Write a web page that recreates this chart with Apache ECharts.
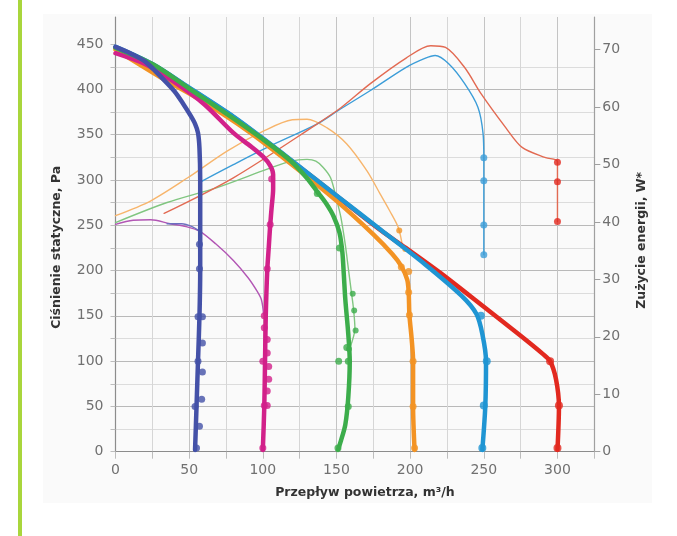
<!DOCTYPE html>
<html>
<head>
<meta charset="utf-8">
<script src="https://cdn.jsdelivr.net/npm/echarts@6/dist/echarts.min.js"></script>
<style>
  html, body { margin: 0; padding: 0; background: #ffffff; }
  #chart { width: 677px; height: 536px; }
</style>
</head>
<body>
<div id="chart"></div>
<script>
// Axis ranges and tick labels
const flowTicks = [0, 50, 100, 150, 200, 250, 300];
const pressureTicks = [0, 50, 100, 150, 200, 250, 300, 350, 400, 450];
const powerTicks = [0, 10, 20, 30, 40, 50, 60, 70];

// Static pressure curves [flow m³/h, Pa] – one per fan speed
const pressureDarkBlue = [[0,447],[10,440],[20,431],[32,412],[40,398],[46,384],[51,371],[54,362],[56,352],[57,335],[57.5,300],[57.5,250],[57.5,200],[57,150],[56,100],[55,50],[54,2]];
const pressureMagenta  = [[0,440],[20,428],[40,408],[60,384],[80,352],[92,337],[100,326],[105,316],[107,306],[107,290],[106,270],[105,250],[104,225],[103,200],[102,150],[101.5,100],[101,50],[100,2]];
const pressureGreen    = [[0,446],[25,428],[50,401],[80,368],[100,345],[119,321],[130,302],[137,287],[143,274],[148,260],[152,242],[154,220],[155,195],[156,168],[158,130],[159,100],[158,60],[156,30],[153,12],[151,2]];
const pressureOrange   = [[0,444],[30,414],[60,386],[90,354],[119,318],[150,277],[175,240],[188,218],[194,205],[198,190],[199,176],[199.5,151],[201,125],[202,100],[202,50],[203,2]];
const pressureBlue     = [[0,447],[25,428],[50,402],[80,370],[100,346],[120,321],[150,283],[180,245],[210,207],[235,172],[245,152],[249,130],[251.5,100],[251,50],[249,2]];
const pressureRed      = [[0,446],[25,427.5],[50,401.5],[80,369.5],[100,345.5],[120,320.5],[150,282.5],[180,244.5],[197,225],[220,198],[250,160],[275,128],[290,108],[295,100],[299,80],[301,50],[300,2]];

// Measured pressure points
const pointsDarkBlue = [[57,229],[57,202],[56,149],[59,149],[59,120],[56,100],[59,88],[58.5,58],[54,50],[57,28],[55,4]];
const pointsMagenta  = [[106,301],[105,251],[103,202],[101,150],[101,137],[103,124],[103,109],[100,100],[104,94],[104,80],[103,67],[101,51],[103,51],[100,4]];
const pointsGreen    = [[137,285],[152,225],[151.5,100],[158,100],[157,115],[158,50],[151,4]];
const pointsOrange   = [[194,204],[199,199],[199,176],[199.5,151],[202,100],[202,50],[203,4]];
const pointsBlue     = [[248,150],[252,100],[250,51],[249,4]];
const pointsRed      = [[295,100],[301,51],[300,4]];

// Power consumption curves [flow m³/h, W]
const powerPurple   = [[0,39.6],[12,40.3],[24,40.4],[37,39.7],[48,39.2],[57,38.4],[68,36.2],[80,33.3],[90,30.3],[96,28],[99,26.5],[100.5,24]];
const powerDarkBlue = [[35,39.7],[45,39.7],[52,39.2],[57,38.4]];
const powerGreen    = [[0,39.9],[35,43.4],[69,46],[103,49.2],[119,50.6],[130,50.9],[136,50.6],[141,49.5],[146,47.7],[150,44],[153,40.8],[156,36],[158,32],[160,28],[161.5,25],[162.5,21.5],[159,18]];
const powerOrange   = [[0,41.1],[24,43.7],[49,47.7],[76,52.4],[101,55.9],[120,57.8],[130,57.9],[143.6,56.4],[157,53.6],[170.7,48.9],[179.6,44.9],[186,42],[192,39],[195,35.5]];
const powerBlue     = [[57,46.8],[60,47.3],[80,50],[103,53],[137,57.1],[151,59.4],[173,62.9],[197,66.9],[210,68.5],[217,69],[226,67.6],[237,64.1],[246,60],[249.5,55.4],[250,51.2],[250,34.3]];
const powerRed      = [[33,41.5],[80,47.7],[137,57.1],[153,59.9],[173,64.1],[197,68.5],[214,70.7],[224,70.4],[237,66.9],[248,62.4],[265,56.4],[276,53],[292,51.2],[300,50.5],[300,40.1]];

// Measured power points
const powerPointsGreen  = [[161,27.5],[162,24.6],[163,21.1],[158.5,17.9]];
const powerPointsOrange = [[192.6,38.5],[196.7,35.3]];
const powerPointsBlue   = [[250,51.2],[250,47.2],[250,39.5],[250,34.3]];
const powerPointsRed    = [[300,50.4],[300,47],[300,40.1]];

const FLOW_MAX = 325;
const PRESSURE_MAX = 480;
const POWER_MAX = 75.7;

const font = 'DejaVu Sans';

function curve(data, color, width, yAxisIndex, z) {
  return {
    type: 'line', data: data, yAxisIndex: yAxisIndex,
    smooth: 0.3, showSymbol: false, symbol: 'none', z: z,
    lineStyle: { color: color, width: width, cap: 'round', join: 'round' },
    silent: true
  };
}
function dots(data, color, size, yAxisIndex, z) {
  return {
    type: 'scatter', data: data, yAxisIndex: yAxisIndex,
    symbol: 'circle', symbolSize: size, z: z,
    itemStyle: { color: color }, silent: true
  };
}

// grid lines every 25 Pa: darker every 50 Pa, none above the 450 line
const pressureSteps = [];
for (let v = 0; v <= 475; v += 25) pressureSteps.push(v);
pressureSteps.push(PRESSURE_MAX);
const yLineColors = pressureSteps.map(v =>
  v > 450 ? 'rgba(0,0,0,0)' : (v % 50 === 0 ? '#b9b9b9' : '#dcdcdc'));
const pressureTickValues = pressureSteps.filter(v => v <= 450);
const xLineColors = ['#c4c4c4', '#d6d6d6'];

const C = {
  darkBlue: '#4451a8', magenta: '#d2218a', green: '#3cad4b',
  orange: '#f39324', blue: '#1f95d3', red: '#e2291f',
  purpleThin: '#b256b4', darkBlueThin: '#6c6fc0', greenThin: '#80c680',
  orangeThin: '#f7b56c', blueThin: '#3c9dd8', redThin: '#e26a52'
};

const chart = echarts.init(document.getElementById('chart'), null, { renderer: 'canvas' });
chart.setOption({
  animation: false,
  backgroundColor: '#ffffff',
  graphic: [
    { type: 'rect', shape: { x: 43, y: 14, width: 609, height: 489 }, style: { fill: '#fafafa' }, z: -10, silent: true },
    { type: 'rect', shape: { x: 18, y: 0, width: 4, height: 536 }, style: { fill: '#a9d63c' }, z: -5, silent: true }
  ],
  grid: { left: 115.5, right: 82.7, top: 17, bottom: 84.3, containLabel: false },
  xAxis: {
    type: 'value', min: 0, max: FLOW_MAX, interval: 25,
    name: 'Przepływ powietrza, m³/h', nameLocation: 'middle', nameGap: 35,
    nameTextStyle: { fontFamily: font, fontSize: 12.5, fontWeight: 'bold', color: '#333', padding: [0, 0, 0, 20] },
    axisLine: { show: true, onZero: false, lineStyle: { color: '#8c8c8c', width: 1.2 } },
    axisTick: { show: true, inside: false, length: 7, lineStyle: { color: '#bdbdbd' } },
    axisLabel: { interval: 1, margin: 12, fontFamily: font, fontSize: 14, color: '#707070',
      formatter: v => (flowTicks.indexOf(v) >= 0 ? String(v) : '') },
    splitLine: { show: true, lineStyle: { color: xLineColors, width: 1 } }
  },
  yAxis: [
    {
      type: 'value', min: 0, max: PRESSURE_MAX, interval: 25, position: 'left',
      name: 'Ciśnienie statyczne, Pa', nameLocation: 'middle', nameGap: 52,
      nameTextStyle: { fontFamily: font, fontSize: 12.5, fontWeight: 'bold', color: '#333', padding: [0, 26, 0, 0] },
      axisLine: { show: true, lineStyle: { color: '#8c8c8c', width: 1.2 } },
      axisTick: { show: true, length: 5, customValues: pressureTickValues, lineStyle: { color: '#bdbdbd' } },
      axisLabel: { margin: 12, fontFamily: font, fontSize: 14, color: '#707070', customValues: pressureTicks },
      splitLine: { show: true, showMaxLine: false, lineStyle: { color: yLineColors, width: 1 } }
    },
    {
      type: 'value', min: 0, max: POWER_MAX, position: 'right',
      name: 'Zużycie energii, W*', nameLocation: 'middle', nameGap: 41,
      nameTextStyle: { fontFamily: font, fontSize: 12.5, fontWeight: 'bold', color: '#333', padding: [0, 12, 0, 0] },
      axisLine: { show: true, lineStyle: { color: '#a0a0a0', width: 1.2 } },
      axisTick: { show: true, length: 6, customValues: powerTicks, lineStyle: { color: '#a0a0a0' } },
      axisLabel: { margin: 8, fontFamily: font, fontSize: 14, color: '#707070', customValues: powerTicks },
      splitLine: { show: false }
    }
  ],
  series: [
    // power consumption (thin)
    curve(powerPurple, C.purpleThin, 1.4, 1, 2),
    curve(powerDarkBlue, C.darkBlueThin, 1.4, 1, 2),
    curve(powerGreen, C.greenThin, 1.4, 1, 2),
    curve(powerOrange, C.orangeThin, 1.4, 1, 2),
    curve(powerBlue, C.blueThin, 1.4, 1, 2),
    curve(powerRed, C.redThin, 1.4, 1, 2),
    dots(powerPointsGreen, C.green, 6, 1, 3),
    dots(powerPointsOrange, C.orange, 6, 1, 3),
    dots(powerPointsBlue, C.blueThin, 7, 1, 3),
    dots(powerPointsRed, C.red, 7, 1, 3),
    // static pressure (thick)
    curve(pressureRed, C.red, 4.5, 0, 4),
    curve(pressureOrange, C.orange, 4.5, 0, 4),
    curve(pressureBlue, C.blue, 4.5, 0, 5),
    curve(pressureMagenta, C.magenta, 4.5, 0, 5),
    curve(pressureGreen, C.green, 4.5, 0, 5),
    curve(pressureDarkBlue, C.darkBlue, 4.5, 0, 6),
    dots(pointsRed, C.red, 8, 0, 7),
    dots(pointsOrange, C.orange, 7, 0, 7),
    dots(pointsBlue, C.blue, 8, 0, 7),
    dots(pointsMagenta, C.magenta, 7, 0, 7),
    dots(pointsGreen, C.green, 7, 0, 7),
    dots(pointsDarkBlue, C.darkBlue, 7, 0, 7)
  ]
});
</script>
</body>
</html>
